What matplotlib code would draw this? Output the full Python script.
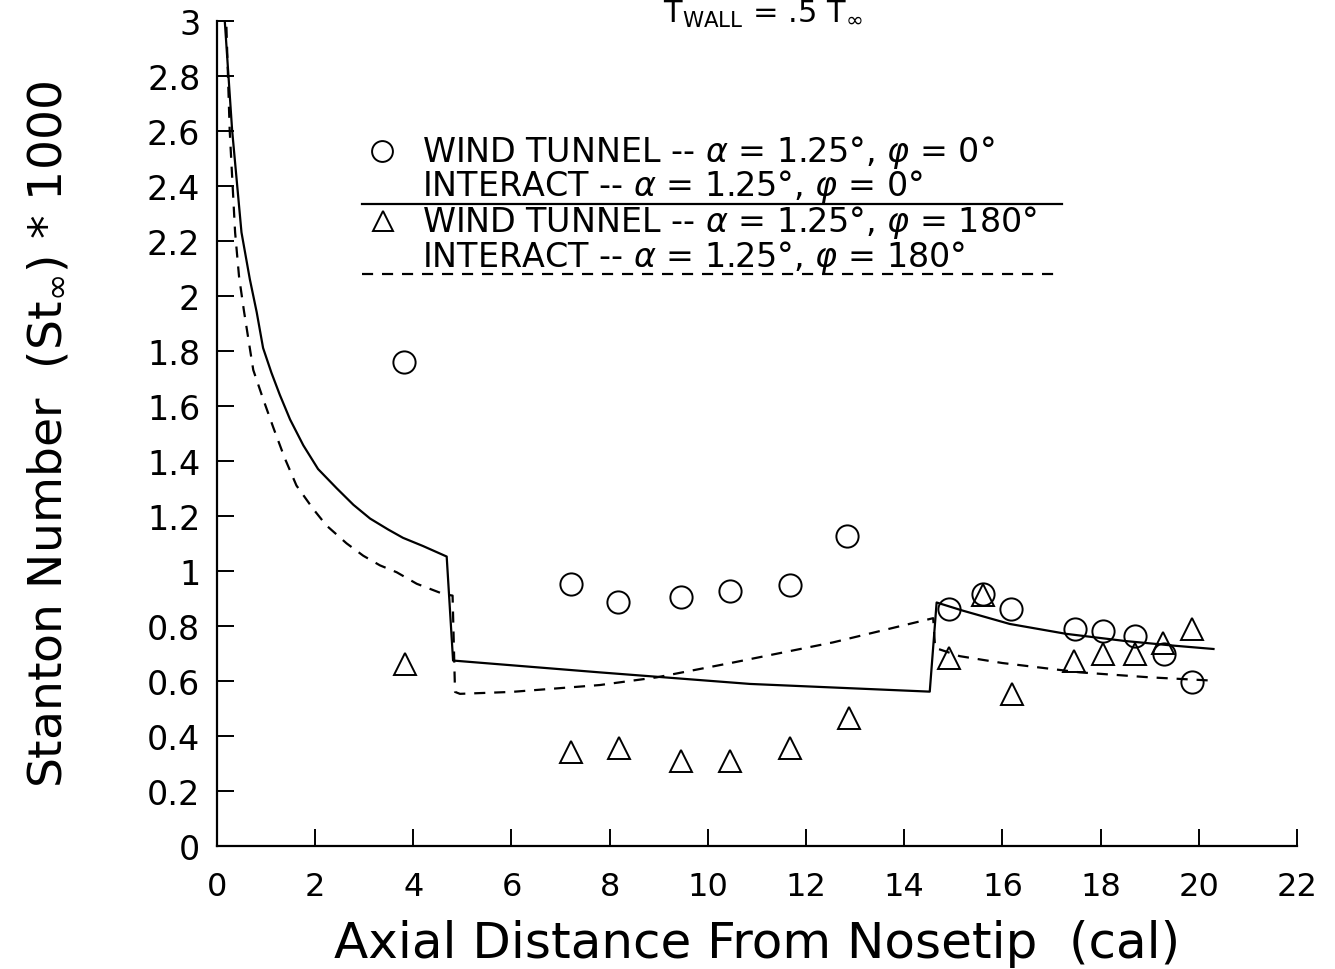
# Stanton number along the body, wind tunnel vs INTERACT, alpha = 1.25 deg

import numpy as np
import matplotlib
matplotlib.use('Agg')
import matplotlib.pyplot as plt

plt.rcParams['font.family'] = ['DejaVu Sans']
plt.rcParams['mathtext.fontset'] = 'dejavusans'

# wind tunnel, phi = 0 (circles)
wt0_x = [3.81, 7.21, 8.17, 9.45, 10.45, 11.67, 12.83, 14.91, 15.6, 16.17, 17.47, 18.04, 18.7, 19.29, 19.86]
wt0_y = [1.76, 0.953, 0.887, 0.905, 0.927, 0.949, 1.127, 0.862, 0.916, 0.862, 0.789, 0.782, 0.764, 0.698, 0.596]

# wind tunnel, phi = 180 (triangles)
wt180_x = [3.83, 7.21, 8.19, 9.45, 10.45, 11.67, 12.87, 14.91, 15.6, 16.19, 17.45, 18.04, 18.7, 19.27, 19.86]
wt180_y = [0.662, 0.342, 0.356, 0.309, 0.309, 0.356, 0.465, 0.684, 0.913, 0.553, 0.673, 0.698, 0.698, 0.738, 0.789]

# INTERACT, phi = 0 (solid)
int0_x = [0.14, 0.31, 0.5, 0.67, 0.81, 0.94, 1.11, 1.28, 1.49, 1.76, 2.06, 2.44, 2.78, 3.12, 3.49, 3.79,
          4.2, 4.68, 4.81, 7.8, 10.86, 14.52,
          14.66, 15.2, 16.15, 17.3, 18.5, 19.5, 20.3]
int0_y = [3.05, 2.6, 2.23, 2.06, 1.94, 1.81, 1.72, 1.64, 1.55, 1.456, 1.37, 1.30, 1.24, 1.19, 1.15, 1.12,
          1.09, 1.052, 0.674, 0.631, 0.589, 0.561,
          0.885, 0.855, 0.807, 0.771, 0.745, 0.728, 0.716]

# INTERACT, phi = 180 (dashed)
int180_x = [0.18, 0.26, 0.37, 0.45, 0.55, 0.74, 0.94, 1.15, 1.38, 1.62, 1.96, 2.23, 2.64, 2.98, 3.32, 3.66,
            4.07, 4.61, 4.8, 4.85, 4.95, 6.0,
            7.8, 8.96, 10.52, 12.55, 14.59, 14.63, 15.13, 16.0, 17.58, 19.0, 20.29]
int180_y = [3.05, 2.6, 2.23, 2.07, 1.945, 1.73, 1.625, 1.52, 1.41, 1.31, 1.225, 1.165, 1.10, 1.055, 1.02, 0.995,
            0.953, 0.916, 0.91, 0.56, 0.553, 0.56,
            0.585, 0.613, 0.667, 0.74, 0.828, 0.72, 0.69, 0.665, 0.631, 0.613, 0.601]

x_ticks = np.arange(0, 23, 2)
y_ticks = np.round(np.arange(0, 3.01, 0.2), 1)

legend_rows = [r'WIND TUNNEL -- $\alpha$ = 1.25°, $\varphi$ = 0°',
               r'INTERACT -- $\alpha$ = 1.25°, $\varphi$ = 0°',
               r'WIND TUNNEL -- $\alpha$ = 1.25°, $\varphi$ = 180°',
               r'INTERACT -- $\alpha$ = 1.25°, $\varphi$ = 180°']

fig = plt.figure(figsize=(13.35, 9.70), dpi=100)
ax = fig.add_axes([0.1625, 0.1268, 0.809, 0.851])

lw = 1.6
dash = (0, (5, 4))
ax.plot(int0_x, int0_y, color='black', lw=lw)
ax.plot(int180_x, int180_y, color='black', lw=lw, linestyle=dash)
ax.plot(wt0_x, wt0_y, 'o', ms=16, mfc='none', mec='black', mew=1.4)
ax.plot(wt180_x, wt180_y, '^', ms=16, mfc='none', mec='black', mew=1.4)

ax.set_xlim(0, 22)
ax.set_ylim(0, 3)
ax.set_xticks(x_ticks)
ax.set_yticks(y_ticks)
ax.set_yticklabels(['{:g}'.format(v) for v in y_ticks])
ax.spines['top'].set_visible(False)
ax.spines['right'].set_visible(False)
ax.spines['left'].set_linewidth(1.6)
ax.spines['bottom'].set_linewidth(1.6)
ax.tick_params(axis='both', direction='in', length=12, width=1.4)
ax.tick_params(axis='x', labelsize=23, pad=18)
ax.tick_params(axis='y', labelsize=24, pad=12)

ax.set_xlabel('Axial Distance From Nosetip  (cal)', fontsize=36, labelpad=12)
ax.set_ylabel(r'Stanton Number  (St$_\infty$) * 1000', fontsize=34, labelpad=54)

# hand-made key
tx = 0.19
ax.plot([0.1528], [0.8414], 'o', ms=15, mfc='none', mec='black', mew=1.4, transform=ax.transAxes)
ax.plot([0.1537], [0.7567], '^', ms=15, mfc='none', mec='black', mew=1.4, transform=ax.transAxes)
for row, yy in zip(legend_rows, [0.8414, 0.8002, 0.7567, 0.7143]):
    ax.text(tx, yy, row, fontsize=24, va='center', ha='left', transform=ax.transAxes)
ax.plot([0.134, 0.782], [0.7772, 0.7772], color='black', lw=lw, transform=ax.transAxes)
ax.plot([0.134, 0.779], [0.6925, 0.6925], color='black', lw=lw, linestyle=dash,
        transform=ax.transAxes)

fig.text(0.497, 0.976, r'T$_{\mathrm{WALL}}$ = .5 T$_\infty$', fontsize=22, ha='left', va='baseline')

fig.savefig('out.png', dpi=100)
